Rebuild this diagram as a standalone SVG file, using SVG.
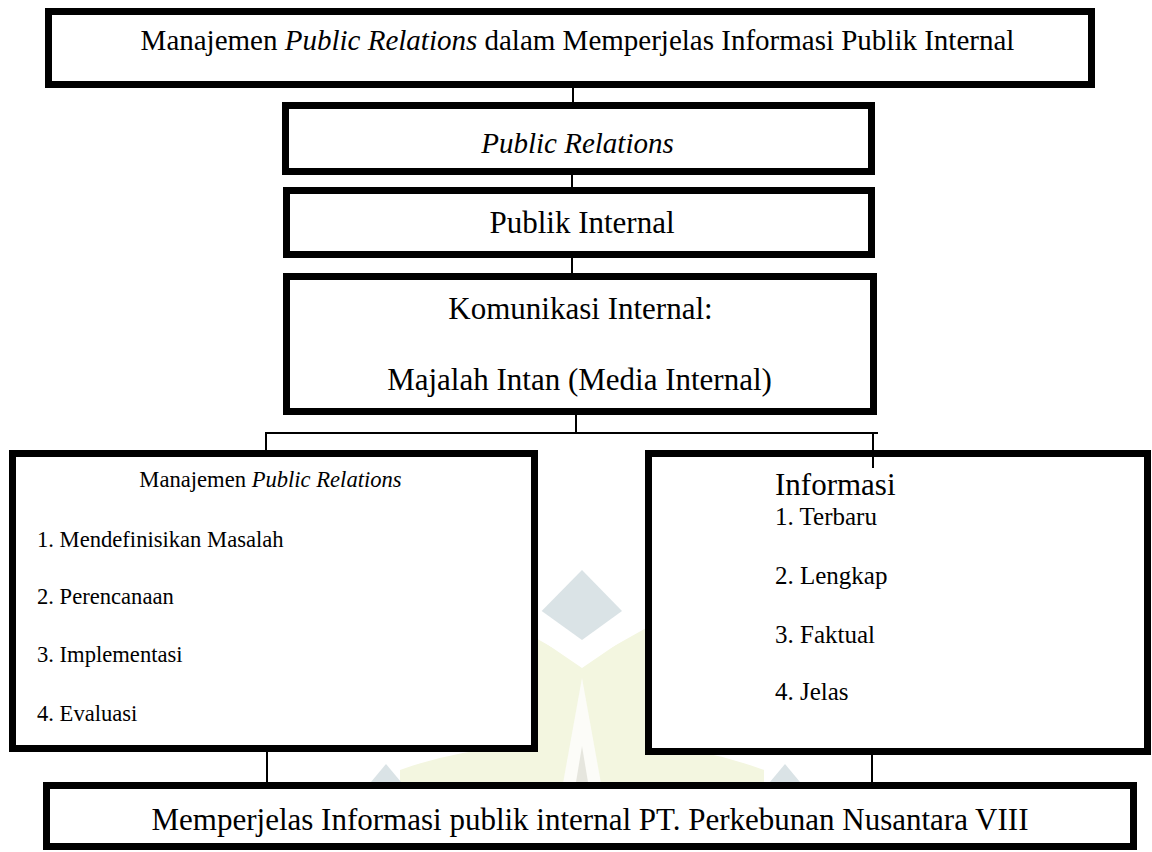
<svg xmlns="http://www.w3.org/2000/svg" width="1152" height="852" viewBox="0 0 1152 852">
<style>
.box{fill:#fff;stroke:#000;stroke-width:7}
.ln{stroke:#000;stroke-width:2;fill:none}
.t{font-family:"Liberation Serif","Times New Roman",serif;fill:#000}
.c{text-anchor:middle}
.i{font-style:italic}
.wy{fill:#f3f6e0}
.wb{fill:#dae3e6}
.wg{fill:#e6e6de}
</style>
<rect width="1152" height="852" fill="#fff"/>
<g id="watermark">
<polygon class="wy" points="500,612 582,668 664,612 664,800 500,800"/>
<path class="wy" d="M400,800 L400,770 Q460,748 540,744 L540,800 Z"/>
<path class="wy" d="M764,800 L764,770 Q704,748 640,744 L640,800 Z"/>
<polygon fill="#fff" points="500,600 541.7,611 582,640 622,611 664,600 664,618 582,664 500,618"/>
<polygon class="wb" points="582,570 622,611 582,640 541.7,611"/>
<polygon fill="#fcfcf8" points="582,678 560,800 604,800"/>
<polygon class="wg" points="582,746 573,800 591,800"/>
<polygon class="wb" points="386,764 356,800 416,800"/>
<polygon class="wb" points="785,764 755,800 815,800"/>
</g>
<g id="connectors">
<line class="ln" x1="573" y1="88" x2="573" y2="102"/>
<line class="ln" x1="572" y1="175" x2="572" y2="187"/>
<line class="ln" x1="572" y1="258" x2="572" y2="273"/>
<line class="ln" x1="576" y1="415" x2="576" y2="433"/>
<line class="ln" x1="265" y1="433" x2="878" y2="433"/>
<line class="ln" x1="266" y1="432" x2="266" y2="450"/>
<line class="ln" x1="267" y1="752" x2="267" y2="782"/>
<line class="ln" x1="872" y1="755" x2="872" y2="782"/>
</g>
<g id="n1">
<rect class="box" x="48.5" y="11.5" width="1043" height="73"/>
<text class="t c" x="577.5" y="50" font-size="29">Manajemen <tspan class="i">Public Relations</tspan> dalam Memperjelas Informasi Publik Internal</text>
</g>
<g id="n2">
<rect class="box" x="285.5" y="105.5" width="586" height="66"/>
<text class="t c i" x="577.5" y="153" font-size="29">Public Relations</text>
</g>
<g id="n3">
<rect class="box" x="286.5" y="190.5" width="585" height="64"/>
<text class="t c" x="582" y="233" font-size="31">Publik Internal</text>
</g>
<g id="n4">
<rect class="box" x="286.5" y="276.5" width="587" height="135"/>
<text class="t c" x="580.5" y="319" font-size="31">Komunikasi Internal:</text>
<text class="t c" x="579.5" y="390" font-size="31">Majalah Intan (Media Internal)</text>
</g>
<g id="n5">
<rect class="box" x="12.5" y="453.5" width="522" height="295"/>
<text class="t c" x="270.5" y="487" font-size="22.6">Manajemen <tspan class="i">Public Relations</tspan></text>
<text class="t" x="37" y="547" font-size="22.6">1. Mendefinisikan Masalah</text>
<text class="t" x="37" y="604" font-size="22.6">2. Perencanaan</text>
<text class="t" x="37" y="662" font-size="22.6">3. Implementasi</text>
<text class="t" x="37" y="721" font-size="22.6">4. Evaluasi</text>
</g>
<g id="n6">
<rect class="box" x="648.5" y="453.5" width="499" height="298"/>
<text class="t" x="775" y="495" font-size="31">Informasi</text>
<text class="t" x="775" y="525" font-size="25">1. Terbaru</text>
<text class="t" x="775" y="584" font-size="25">2. Lengkap</text>
<text class="t" x="775" y="643" font-size="25">3. Faktual</text>
<text class="t" x="775" y="700" font-size="25">4. Jelas</text>
</g>
<line class="ln" x1="873" y1="433" x2="873" y2="468"/>
<g id="n7">
<rect class="box" x="46.5" y="785.5" width="1087" height="61"/>
<text class="t c" x="590" y="830" font-size="31">Memperjelas Informasi publik internal PT. Perkebunan Nusantara VIII</text>
</g>
</svg>
